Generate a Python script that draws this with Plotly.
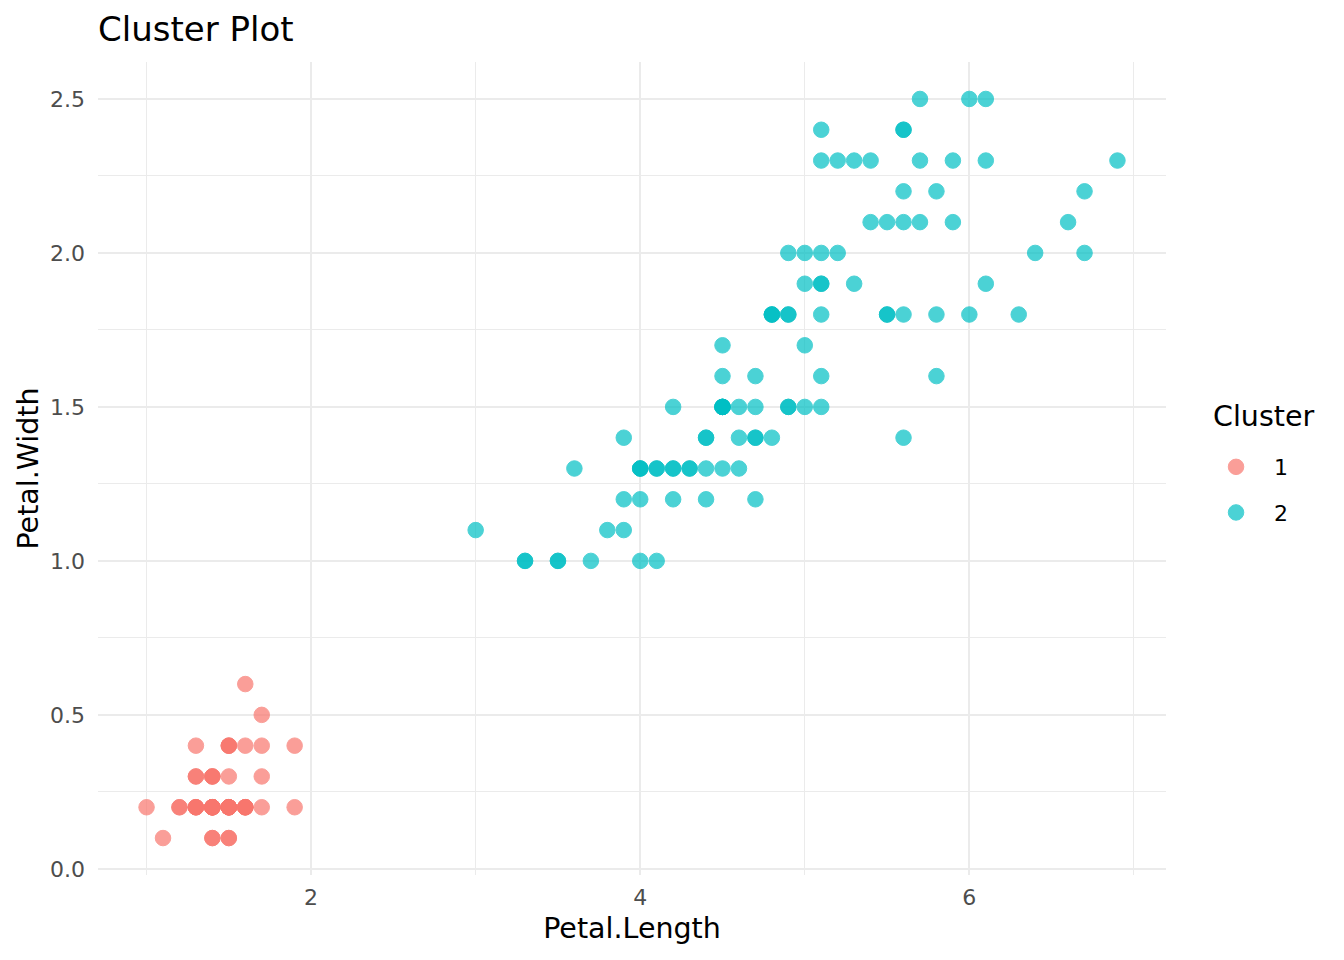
import plotly.graph_objects as go

# Petal measurements (iris), split by cluster
c1_length = [1.4, 1.4, 1.3, 1.5, 1.4, 1.7, 1.4, 1.5, 1.4, 1.5, 1.5, 1.6, 1.4, 1.1, 1.2, 1.5, 1.3, 1.4, 1.7, 1.5,
             1.7, 1.5, 1.0, 1.7, 1.9, 1.6, 1.6, 1.5, 1.4, 1.6, 1.6, 1.5, 1.5, 1.4, 1.5, 1.2, 1.3, 1.4, 1.3, 1.5,
             1.3, 1.3, 1.3, 1.6, 1.9, 1.4, 1.6, 1.4, 1.5, 1.4]
c1_width = [0.2, 0.2, 0.2, 0.2, 0.2, 0.4, 0.3, 0.2, 0.2, 0.1, 0.2, 0.2, 0.1, 0.1, 0.2, 0.4, 0.4, 0.3, 0.3, 0.3,
            0.2, 0.4, 0.2, 0.5, 0.2, 0.2, 0.4, 0.2, 0.2, 0.2, 0.2, 0.4, 0.1, 0.2, 0.2, 0.2, 0.2, 0.1, 0.2, 0.2,
            0.3, 0.3, 0.2, 0.6, 0.4, 0.3, 0.2, 0.2, 0.2, 0.2]

c2_length = [4.7, 4.5, 4.9, 4.0, 4.6, 4.5, 4.7, 3.3, 4.6, 3.9, 3.5, 4.2, 4.0, 4.7, 3.6, 4.4, 4.5, 4.1, 4.5, 3.9,
             4.8, 4.0, 4.9, 4.7, 4.3, 4.4, 4.8, 5.0, 4.5, 3.5, 3.8, 3.7, 3.9, 5.1, 4.5, 4.5, 4.7, 4.4, 4.1, 4.0,
             4.4, 4.6, 4.0, 3.3, 4.2, 4.2, 4.2, 4.3, 3.0, 4.1,
             6.0, 5.1, 5.9, 5.6, 5.8, 6.6, 4.5, 6.3, 5.8, 6.1, 5.1, 5.3, 5.5, 5.0, 5.1, 5.3, 5.5, 6.7, 6.9, 5.0,
             5.7, 4.9, 6.7, 4.9, 5.7, 6.0, 4.8, 4.9, 5.6, 5.8, 6.1, 6.4, 5.6, 5.1, 5.6, 6.1, 5.6, 5.5, 4.8, 5.4,
             5.6, 5.1, 5.1, 5.9, 5.7, 5.2, 5.0, 5.2, 5.4, 5.1]
c2_width = [1.4, 1.5, 1.5, 1.3, 1.5, 1.3, 1.6, 1.0, 1.3, 1.4, 1.0, 1.5, 1.0, 1.4, 1.3, 1.4, 1.5, 1.0, 1.5, 1.1,
            1.8, 1.3, 1.5, 1.2, 1.3, 1.4, 1.4, 1.7, 1.5, 1.0, 1.1, 1.0, 1.2, 1.6, 1.5, 1.6, 1.5, 1.3, 1.3, 1.3,
            1.2, 1.4, 1.2, 1.0, 1.3, 1.2, 1.3, 1.3, 1.1, 1.3,
            2.5, 1.9, 2.1, 1.8, 2.2, 2.1, 1.7, 1.8, 1.8, 2.5, 2.0, 1.9, 2.1, 2.0, 2.4, 2.3, 1.8, 2.2, 2.3, 1.5,
            2.3, 2.0, 2.0, 1.8, 2.1, 1.8, 1.8, 1.8, 2.1, 1.6, 1.9, 2.0, 2.2, 1.5, 1.4, 2.3, 2.4, 1.8, 1.8, 2.1,
            2.4, 2.3, 1.9, 2.3, 2.5, 2.3, 1.9, 2.0, 2.3, 1.8]

font = "DejaVu Sans"

fig = go.Figure()
for name, xs, ys, col in [("1", c1_length, c1_width, "#F8766D"),
                          ("2", c2_length, c2_width, "#00BFC4")]:
    fig.add_trace(go.Scatter(
        x=xs, y=ys, mode="markers", name=name, legendgroup=name,
        marker=dict(color=col, size=15.5, opacity=0.7, line=dict(width=1, color=col)),
    ))

grid = "#EBEBEB"
fig.update_layout(
    width=1344, height=960,
    plot_bgcolor="white", paper_bgcolor="white",
    font=dict(family=font, color="black"),
    margin=dict(l=90, r=186, t=54, b=93),
    title=dict(text="Cluster Plot", x=90 / 1344, xanchor="left", y=1 - 21 / 960, yanchor="middle",
               font=dict(size=34, family=font, color="black")),
    xaxis=dict(
        title=dict(text="Petal.Length", font=dict(size=28.5), standoff=9),
        range=[0.705, 7.195], tickvals=[2, 4, 6], ticktext=["2", "4", "6"],
        tickfont=dict(size=22, color="#4D4D4D"), ticklabelstandoff=7,
        showgrid=True, gridcolor=grid, gridwidth=2, zeroline=False, showline=False,
        minor=dict(tickvals=[1, 3, 5, 7], showgrid=True, gridcolor=grid, gridwidth=1),
        ticks="",
    ),
    yaxis=dict(
        title=dict(text="Petal.Width", font=dict(size=28.5), standoff=3),
        range=[-0.02, 2.62], tickvals=[0, 0.5, 1.0, 1.5, 2.0, 2.5],
        ticktext=["0.0", "0.5", "1.0", "1.5", "2.0", "2.5"],
        tickfont=dict(size=22, color="#4D4D4D"), ticklabelstandoff=12,
        showgrid=True, gridcolor=grid, gridwidth=2, zeroline=False, showline=False,
        minor=dict(tickvals=[0.25, 0.75, 1.25, 1.75, 2.25], showgrid=True, gridcolor=grid, gridwidth=1),
        ticks="",
    ),
    legend=dict(
        font=dict(size=22), x=1.030, xanchor="left", y=0.4735, yanchor="middle",
        itemsizing="trace", tracegroupgap=14, itemwidth=66,
    ),
    annotations=[dict(
        text="Cluster", xref="paper", yref="paper", x=1.042, y=(875 - 416) / 813,
        xanchor="left", yanchor="middle", showarrow=False, font=dict(size=28.5, color="black"),
    )],
)

fig.write_html("out.html")
